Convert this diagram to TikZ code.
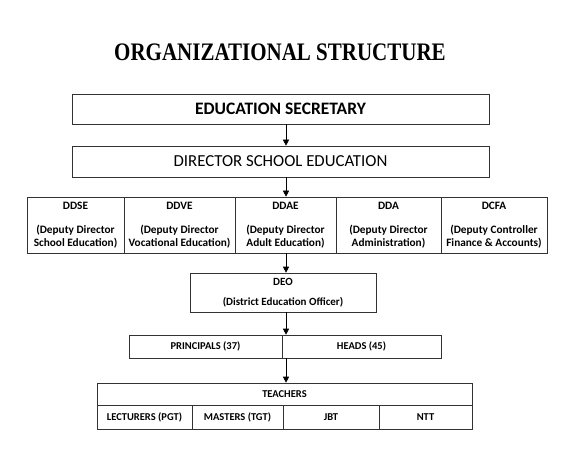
\documentclass[tikz,border=0pt]{standalone}
\usepackage{fontspec}
\setmainfont{Carlito}
\newfontfamily\titlefont{Liberation Serif}
\usetikzlibrary{arrows.meta}

\tikzset{
  box/.style={draw=black!80, line width=0.6pt, inner sep=0pt, align=center},
  cell/.style={box, font=\bfseries\fontsize{#1}{13}\selectfont},
  cell/.default=10.5,
  link/.style={-{Triangle[length=6pt, width=6pt]}, line width=0.6pt}
}

\begin{document}
\begin{tikzpicture}[x=1pt, y=-1pt]
  \useasboundingbox (0,0) rectangle (580,454);
  % title
  \node (title) at (280,52.5) {\scalebox{1}[1.2]{\titlefont\bfseries\fontsize{21}{24}\selectfont ORGANIZATIONAL STRUCTURE}};
  \coordinate (spine) at (286,0);
  % top two boxes
  \node[box, minimum width=417pt, minimum height=30pt, font=\bfseries\fontsize{17.5}{19}\selectfont] (sec) at (280.5,109) {EDUCATION SECRETARY};
  \node[box, minimum width=417pt, minimum height=31pt, font=\fontsize{16.8}{18}\selectfont] (dse) at (280.5,161.5) {DIRECTOR SCHOOL EDUCATION};
  % deputy directors
  \node[cell=11.3, minimum width=97pt, minimum height=56pt] (ddse) at (75.5,225) {DDSE\\[11pt](Deputy Director\\School Education)};
  \node[cell=11.3, minimum width=111pt, minimum height=56pt] (ddve) at (179.5,225) {DDVE\\[11pt](Deputy Director\\Vocational Education)};
  \node[cell=11.3, minimum width=101pt, minimum height=56pt] (ddae) at (285.5,225) {DDAE\\[11pt](Deputy Director\\Adult Education)};
  \node[cell=11.3, minimum width=105pt, minimum height=56pt] (dda) at (388.5,225) {DDA\\[11pt](Deputy Director\\Administration)};
  \node[cell=11.3, minimum width=106pt, minimum height=56pt] (dcfa) at (494,225) {DCFA\\[11pt](Deputy Controller\\Finance \& Accounts)};
  % district
  \node[cell=11, minimum width=186pt, minimum height=39pt] (deo) at (283,292.5) {DEO\\[7pt](District Education Officer)};
  % principals and heads
  \node[cell, minimum width=153pt, minimum height=23pt] (prin) at (205.5,346.5) {PRINCIPALS (37)};
  \node[cell, minimum width=159pt, minimum height=23pt] (heads) at (361.5,346.5) {HEADS (45)};
  % teachers
  \node[cell, minimum width=375pt, minimum height=22pt] (teach) at (284.5,394) {TEACHERS};
  \node[cell, minimum width=95pt, minimum height=24pt] (pgt) at (144.5,417) {LECTURERS (PGT)};
  \node[cell, minimum width=91pt, minimum height=24pt] (tgt) at (237.5,417) {MASTERS (TGT)};
  \node[cell, minimum width=96pt, minimum height=24pt] (jbt) at (331,417) {JBT};
  \node[cell, minimum width=93pt, minimum height=24pt] (ntt) at (425.5,417) {NTT};
  % connectors
  \draw[link] (sec.south -| spine) -- (dse.north -| spine);
  \draw[link] (dse.south -| spine) -- (ddae.north -| spine);
  \draw[link] (ddae.south -| spine) -- (deo.north -| spine);
  \draw[link] (deo.south -| spine) -- (prin.north -| spine);
  \draw[link] (prin.south -| spine) -- (teach.north -| spine);
\end{tikzpicture}
\end{document}
